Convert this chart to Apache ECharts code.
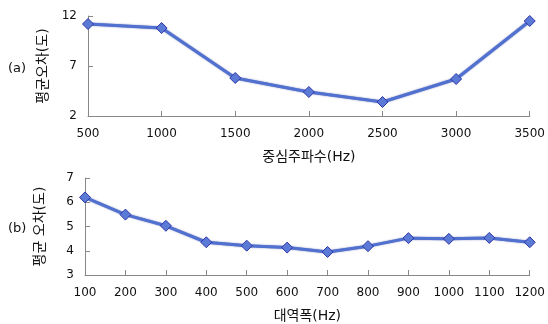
<!DOCTYPE html>
<html><head><meta charset="utf-8">
<script src="https://cdn.jsdelivr.net/npm/echarts@6/dist/echarts.min.js"></script>
<style>html,body{margin:0;padding:0;background:#fff}#c{width:548px;height:324px}</style>
</head><body><div id="c"></div>
<script>
const catsA = ['500','1000','1500','2000','2500','3000','3500'];
const valsA = [11.2, 10.8, 5.8, 4.4, 3.4, 5.7, 11.5];
const catsB = ['100','200','300','400','500','600','700','800','900','1000','1100','1200'];
const valsB = [6.2, 5.49, 5.03, 4.35, 4.21, 4.13, 3.95, 4.19, 4.52, 4.49, 4.53, 4.35];
const FONT = 'DejaVu Sans, Noto Sans CJK KR, sans-serif';
const axisLine = {lineStyle:{color:'#888', width:1}};
const tick = {inside:true, length:5, lineStyle:{color:'#888'}};
function xAx(idx, cats, name){
  return {type:'category', gridIndex:idx, data:cats, boundaryGap:false,
    axisLine, axisTick:Object.assign({alignWithLabel:true}, tick),
    axisLabel:{color:'#111', fontSize:12, fontFamily:FONT, margin:12},
    name, nameLocation:'middle', nameGap:34,
    nameTextStyle:{color:'#111', fontSize:14, fontFamily:FONT}, splitLine:{show:false}};
}
function yAx(idx, min, max, interval, name){
  return {type:'value', gridIndex:idx, min, max, interval, axisLine:Object.assign({show:true}, axisLine),
    axisTick:Object.assign({show:true}, tick), splitLine:{show:false},
    axisLabel:{color:'#111', fontSize:12, fontFamily:FONT, margin:11},
    name, nameLocation:'middle', nameRotate:90, nameGap:38,
    nameTextStyle:{color:'#111', fontSize:14, fontFamily:FONT}};
}
function ser(idx, vals){
  return {type:'line', xAxisIndex:idx, yAxisIndex:idx, data:vals, symbol:'diamond', symbolSize:11,
    lineStyle:{color:'#5071cf', width:3, shadowColor:'rgba(40,50,150,0.7)', shadowBlur:1.5},
    itemStyle:{color:'#5b7ad6', borderColor:'#2f35a8', borderWidth:1}, animation:false};
}
const chart = echarts.init(document.getElementById('c'));
chart.setOption({
  animation:false,
  grid:[{left:88, right:16, top:16, height:100},{left:85, right:16, top:178, height:104}],
  xAxis:[xAx(0, catsA, '중심주파수(Hz)'), xAx(1, catsB, '대역폭(Hz)')],
  yAxis:[yAx(0, 2, 12, 5, '평균오차(도)'), yAx(1, 3, 7, 1, '평균 오차(도)')],
  series:[ser(0, valsA), ser(1, valsB)],
  graphic:[
    {type:'text', left:8, top:62, style:{text:'(a)', font:'13px '+FONT, fill:'#111'}},
    {type:'text', left:8, top:222, style:{text:'(b)', font:'13px '+FONT, fill:'#111'}}
  ]
});
</script></body></html>
